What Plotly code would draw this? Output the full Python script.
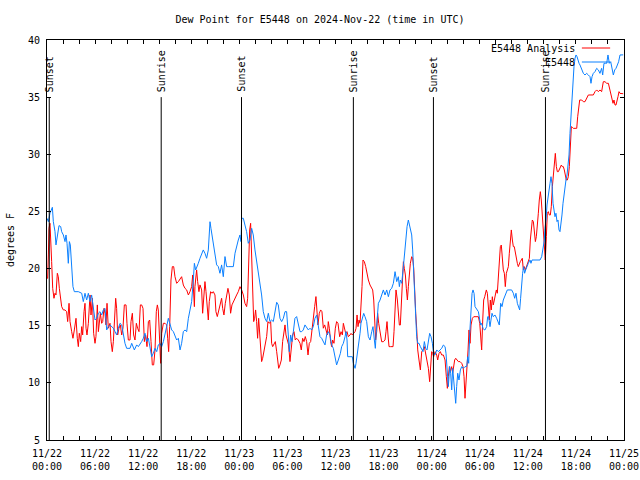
import pandas as pd
import plotly.graph_objects as go

# ---------------- data ----------------
start = pd.Timestamp("2024-11-22 00:00")
end = pd.Timestamp("2024-11-25 00:00")

# E5448 Analysis (red): hours after 2024-11-22 00:00 UTC and dew point (F)
analysis_hours = [
    0.0, 0.08, 0.17, 0.25, 0.37, 0.5, 0.58, 0.71, 0.87, 1.0, 1.12, 1.29, 1.41, 1.54, 1.66, 1.83,
    2.04, 2.25, 2.45, 2.58, 2.75, 2.87, 3.08, 3.24, 3.41, 3.62, 3.78, 3.91, 4.03, 4.2, 4.33, 4.45,
    4.62, 4.74, 4.87, 4.99, 5.16, 5.37, 5.49, 5.66, 5.82, 5.99, 6.11, 6.28, 6.41, 6.53, 6.66, 6.82,
    6.95, 7.11, 7.24, 7.36, 7.49, 7.65, 7.86, 7.99, 8.15, 8.28, 8.4, 8.57, 8.69, 8.82, 8.98, 9.15,
    9.32, 9.48, 9.65, 9.86, 9.98, 10.15, 10.36, 10.48, 10.65, 10.81, 10.98, 11.15, 11.31, 11.48,
    11.65, 11.81, 11.98, 12.15, 12.31, 12.48, 12.65, 12.81, 12.98, 13.14, 13.31, 13.48, 13.64,
    13.77, 13.89, 14.02, 14.18, 14.31, 14.52, 14.73, 14.93, 15.06, 15.18, 15.31, 15.47, 15.64,
    15.81, 15.97, 16.18, 16.39, 16.6, 16.8, 17.01, 17.22, 17.43, 17.64, 17.84, 18.05, 18.18, 18.3,
    18.39,
    18.46, 18.67, 18.8, 18.96, 19.09, 19.3, 19.42, 19.59, 19.71, 19.84, 20.0, 20.13, 20.25, 20.42,
    20.59, 20.75, 20.96, 21.08, 21.25, 21.42, 21.58, 21.79, 21.92, 22.08, 22.25, 22.42, 22.58,
    22.75, 22.91, 23.08, 23.25, 23.46, 23.66, 23.87, 24.08, 24.29, 24.5, 24.7, 24.91, 25.04, 25.16,
    25.29, 25.41, 25.54, 25.66, 25.79, 25.91, 26.03, 26.16, 26.28, 26.41, 26.53, 26.66, 26.78,
    26.91, 27.07, 27.24, 27.41, 27.57, 27.74, 27.91, 28.03, 28.16, 28.32, 28.49, 28.66, 28.78,
    28.91, 29.07, 29.24, 29.4, 29.57, 29.7, 29.82, 29.99, 30.15, 30.32, 30.49, 30.65, 30.82, 30.98,
    31.15, 31.36, 31.57, 31.73, 31.9, 32.07, 32.23, 32.4, 32.57, 32.73, 32.9, 33.06, 33.23, 33.4,
    33.56, 33.69, 33.81, 33.98, 34.15, 34.31, 34.48, 34.65, 34.81, 34.98, 35.1, 35.23, 35.39,
    35.52, 35.64, 35.81, 35.98, 36.14, 36.31, 36.48,
    36.52, 36.69, 36.86, 36.98, 37.1, 37.27, 37.44, 37.6, 37.81, 37.94, 38.1, 38.27, 38.44, 38.56,
    38.69, 38.81, 38.94, 39.06, 39.18, 39.31, 39.43, 39.6, 39.77, 39.93, 40.1, 40.31, 40.52, 40.64,
    40.77, 40.89, 41.01, 41.14, 41.26, 41.39, 41.51, 41.64, 41.76, 41.97, 42.18, 42.3, 42.43, 42.55,
    42.68, 42.85, 43.01, 43.18, 43.3, 43.43, 43.55, 43.72, 43.84, 43.97, 44.09, 44.22, 44.34, 44.47,
    44.59, 44.72, 44.84, 44.97, 45.09, 45.22, 45.34, 45.51, 45.63, 45.76, 45.88, 46.01, 46.13,
    46.26, 46.42, 46.59, 46.76, 46.92, 47.09, 47.25, 47.42, 47.59, 47.75, 47.88, 48.0, 48.13, 48.25,
    48.42, 48.63, 48.75, 48.92, 49.08, 49.25, 49.46, 49.67, 49.83, 49.96, 50.08, 50.21, 50.33,
    50.5, 50.62, 50.75, 50.87, 51.0, 51.16, 51.33, 51.54, 51.75, 51.91, 52.04, 52.16, 52.29, 52.41,
    52.54, 52.66, 52.79, 52.91, 53.08, 53.25, 53.41, 53.62, 53.83, 54.0, 54.12, 54.24, 54.37,
    54.49, 54.62,
    54.7, 54.82, 54.95, 55.07, 55.2, 55.32, 55.44, 55.57, 55.69, 55.82, 55.94, 56.07, 56.19, 56.32,
    56.44, 56.57, 56.69, 56.82, 56.94, 57.07, 57.19, 57.32, 57.44, 57.57, 57.69, 57.82, 57.94,
    58.07, 58.19, 58.31, 58.44, 58.56, 58.69, 58.81, 58.94, 59.06, 59.19, 59.31, 59.44, 59.56,
    59.69, 59.81, 59.94, 60.06, 60.19, 60.31, 60.44, 60.56, 60.69, 60.81, 60.94, 61.06, 61.18,
    61.31, 61.43, 61.56, 61.68, 61.81, 61.93, 62.06, 62.18, 62.31, 62.43, 62.56, 62.68, 62.81,
    62.93, 63.06, 63.18, 63.31, 63.43, 63.56, 63.68, 63.81, 63.93, 64.06, 64.18, 64.3, 64.43,
    64.55, 64.68, 64.8, 64.93, 65.05, 65.18, 65.3, 65.43, 65.55, 65.68, 65.89, 66.1, 66.22, 66.34,
    66.47, 66.72, 66.93, 67.13, 67.34, 67.55, 67.76, 67.97, 68.17, 68.38, 68.59, 68.8, 69.0, 69.21,
    69.42, 69.63, 69.84, 70.05, 70.25, 70.38, 70.5, 70.63, 70.75, 70.88, 71.0, 71.13, 71.25, 71.38,
    71.5, 71.9,
]
analysis_dewpt = [
    19.15, 19.15, 21.19, 23.52, 23.96, 22.36, 20.61, 18.27, 17.4, 17.84, 17.69, 19.59, 19.29, 18.27,
    17.69, 16.67, 16.38, 16.38, 16.23, 15.36, 16.96, 15.36, 14.48, 13.9, 14.63, 15.65, 13.9, 13.17,
    14.34, 13.61, 14.92, 14.19, 16.23, 16.96, 14.78, 14.19, 15.21, 17.69, 15.94, 17.4, 14.34, 13.46,
    14.05, 16.82, 14.48, 15.36, 16.09, 15.21, 15.36, 16.52, 16.09, 15.07, 16.96, 14.78, 15.21,
    13.61, 12.73, 13.61, 15.21, 17.4, 16.52, 14.19, 14.78, 15.07, 14.19, 14.78, 16.82, 16.82,
    15.21, 13.75, 13.75, 15.36, 16.09, 14.19, 13.75, 15.21, 14.78, 14.48, 16.82, 16.82, 16.52,
    13.61, 14.19, 13.17, 15.36, 15.5, 13.61, 11.57, 11.57, 12.88, 16.23, 16.82, 16.38, 14.19,
    11.71, 14.34, 15.21, 15.21, 15.07, 13.9, 12.73, 14.92, 19.0, 20.17, 20.17, 19.29, 18.71, 18.86,
    19.15, 19.29, 18.56, 18.27, 18.13, 17.69, 17.98, 18.42, 19.44, 17.25, 16.67,
    18.42, 19.88, 18.86, 17.98, 18.57, 18.13, 16.09, 17.98, 18.86, 17.98, 16.82, 15.5, 17.11,
    17.98, 17.84, 17.98, 17.69, 16.23, 15.8, 16.38, 16.82, 17.4, 16.52, 15.94, 16.96, 17.69, 18.27,
    17.69, 16.09, 16.82, 17.11, 17.4, 17.69, 17.98, 18.42, 18.13, 17.69, 16.96, 16.67, 17.4, 20.61,
    23.38, 23.96, 20.9, 16.82, 15.36, 15.65, 16.38, 15.36, 13.9, 15.65, 14.19, 13.46, 11.86, 12.15,
    12.73, 13.61, 14.05, 15.36, 15.21, 15.36, 13.46, 13.17, 13.46, 13.61, 12.73, 11.86, 11.27,
    11.57, 12.0, 13.61, 14.48, 15.07, 14.19, 13.61, 13.32, 11.86, 13.46, 14.19, 14.48, 13.75, 13.9,
    13.75, 13.46, 12.88, 13.9, 13.61, 14.05, 13.61, 12.44, 13.46, 13.61, 14.78, 15.65, 16.67,
    17.55, 16.23, 15.07, 16.09, 16.38, 16.23, 14.78, 15.07, 14.48, 14.19, 15.36, 14.78, 13.61,
    13.17, 13.75, 13.46, 14.78, 15.36, 15.21, 14.19,
    14.04, 14.48, 14.19, 15.21, 14.77, 14.33, 14.48, 14.04, 14.19, 14.33, 14.19, 14.33, 14.48,
    14.77, 15.94, 14.92, 15.5, 15.21, 16.52, 18.42, 20.75, 20.6, 20.17, 19.44, 19.0, 18.56, 18.27,
    18.13, 17.25, 14.92, 13.75, 14.48, 16.08, 15.21, 14.77, 14.19, 13.6, 13.6, 13.75, 14.48, 15.36,
    14.19, 13.17, 13.17, 13.17, 13.17, 14.48, 16.38, 18.13, 17.25, 16.08, 15.06, 15.06, 17.54,
    19.15, 20.6, 20.02, 19.44, 18.27, 17.25, 18.42, 19.58, 20.46, 21.04, 20.9, 20.02, 17.69, 16.08,
    14.77, 12.88, 12.0, 11.13, 12.73, 12.88, 13.17, 12.44, 12.0, 11.27, 10.1, 12.0, 12.73, 12.58,
    12.29, 12.73, 12.44, 12.0, 12.58, 12.73, 12.44, 12.44, 12.0, 10.54, 9.52, 10.54, 11.42, 10.98,
    11.42, 10.84, 11.71, 12.0, 12.15, 12.0, 11.86, 11.86, 11.71, 11.42, 10.54, 8.65, 10.84, 11.42,
    12.88, 14.63, 13.46, 15.06, 15.65, 15.79, 15.79, 15.79, 15.79, 15.21, 13.75, 12.88, 15.5,
    17.25, 17.54,
    17.98, 18.13, 17.84, 16.67, 15.5, 17.25, 16.38, 17.54, 16.82, 17.25, 17.84, 18.13, 17.84,
    19.59, 21.04, 21.92, 22.06, 20.75, 19.88, 19.59, 18.42, 19.59, 19.88, 20.17, 21.34, 22.5,
    23.38, 22.5, 21.92, 21.92, 21.34, 20.75, 20.46, 20.17, 20.46, 20.61, 20.75, 20.9, 19.88, 20.17,
    19.88, 20.17, 20.46, 20.61, 20.9, 22.5, 23.67, 24.25, 24.11, 22.79, 22.36, 22.79, 24.25, 24.84,
    26.0, 26.73, 26.0, 24.84, 23.09, 21.92, 20.75, 22.79, 24.84, 24.98, 24.69, 24.69, 25.42, 27.17,
    28.04, 28.77, 30.08, 28.92, 28.48, 28.48, 28.63, 28.92, 29.06, 28.92, 28.92, 28.63, 28.04,
    27.75, 27.75, 28.04, 28.92, 30.67, 32.42, 32.36, 32.27, 32.27, 32.27, 33.29, 34.17, 34.75,
    34.75, 34.6, 34.6, 34.9, 35.19, 35.19, 35.19, 35.19, 35.48, 35.63, 35.48, 35.63, 35.48, 36.35,
    36.35, 36.21, 36.21, 35.63, 35.04, 34.75, 34.46, 34.75, 34.31, 34.31, 34.9, 35.04, 35.48,
    35.33, 35.3,
]

# E5448 observed (blue)
obs_hours = [
    0.0, 0.17, 0.37, 0.58, 0.67, 0.79, 1.0, 1.12, 1.33, 1.5, 1.71, 1.83, 2.04, 2.25, 2.37, 2.5,
    2.66, 2.79, 2.91, 3.08, 3.24, 3.41, 3.91, 4.33, 4.53, 4.74, 4.95, 5.16, 5.37, 5.57, 5.78, 5.99,
    6.2, 6.41, 6.61, 6.82, 7.03, 7.24, 7.45, 7.65, 7.86, 8.07, 8.28, 8.49, 8.69, 8.9, 9.11, 9.32,
    9.53, 9.73, 9.94, 10.36, 10.57, 10.77, 10.9, 11.19, 11.4, 11.81, 12.02, 12.23, 12.44, 12.65,
    12.85, 13.06, 13.27, 13.48, 13.69, 13.89, 14.1, 14.31, 14.52, 14.73, 14.93, 15.14, 15.35,
    15.56, 15.77, 15.97, 16.18, 16.39, 16.6, 16.8, 17.01, 17.22, 17.43, 17.64, 17.84, 18.05, 18.26,
    18.39,
    18.55, 18.67, 18.88, 19.09, 19.3, 19.5, 19.71, 19.92, 20.13, 20.34, 20.46, 20.59, 20.75, 20.96,
    21.17, 21.38, 21.58, 21.79, 22.0, 22.21, 22.42, 22.62, 22.83, 23.04, 23.25, 23.46, 23.66,
    23.87, 24.08, 24.2, 24.29, 24.5, 24.7, 24.91, 25.12, 25.33, 25.54, 25.74, 25.95, 26.16, 26.37,
    26.58, 26.78, 26.99, 27.2, 27.41, 27.62, 27.82, 28.03, 28.24, 28.45, 28.66, 28.86, 29.07,
    29.28, 29.49, 29.7, 29.9, 30.11, 30.24, 30.4, 30.57, 30.74, 30.94, 31.15, 31.36, 31.57, 31.78,
    31.98, 32.19, 32.4, 32.61, 32.82, 33.02, 33.23, 33.44, 33.65, 33.85, 34.06, 34.27, 34.48,
    34.69, 34.89, 35.1, 35.31, 35.52, 35.73, 35.93, 36.14, 36.35, 36.48,
    36.61, 36.77, 36.98, 37.19, 37.31, 37.44, 37.52, 37.81, 38.1, 38.23, 38.44, 38.56, 38.69,
    38.85, 39.06, 39.18, 39.35, 39.52, 39.68, 39.89, 40.1, 40.31, 40.52, 40.68, 40.85, 40.97, 41.1,
    41.22, 41.35, 41.56, 41.76, 41.97, 42.18, 42.39, 42.6, 42.8, 43.01, 43.22, 43.43, 43.64, 43.84,
    43.97, 44.09, 44.26, 44.47, 44.68, 44.8, 44.93, 45.09, 45.22, 45.34, 45.51, 45.63, 45.76,
    45.88, 46.01, 46.13, 46.26, 46.42, 46.59, 46.76, 46.92, 47.09, 47.25, 47.42, 47.59, 47.75,
    47.92, 48.09, 48.25, 48.42, 48.63, 48.84, 49.04, 49.25, 49.46, 49.67, 49.79, 49.92, 50.08,
    50.25, 50.37, 50.5, 50.62, 50.75, 50.87, 51.0, 51.12, 51.25, 51.41, 51.58, 51.75, 51.95, 52.16,
    52.37, 52.5, 52.62, 52.75, 52.91, 53.04, 53.16, 53.29, 53.41, 53.62, 53.83, 54.0, 54.12, 54.24,
    54.41, 54.58,
    54.65, 54.86, 54.99, 55.11, 55.28, 55.4, 55.53, 55.69, 55.9, 56.11, 56.32, 56.44, 56.61, 56.78,
    56.94, 57.11, 57.27, 57.44, 57.98, 58.19, 58.36, 58.52, 58.69, 58.86, 58.98, 59.1, 59.23,
    59.35, 59.48, 59.6, 59.73, 59.85, 60.06, 60.27, 60.39, 60.52, 61.52, 61.73, 61.85, 61.98,
    62.06, 62.14, 62.27, 62.39, 62.52, 62.64, 62.77, 62.89, 63.01, 63.14, 63.26, 63.39, 63.51,
    63.64, 63.76, 63.89, 64.01, 64.14, 64.26, 64.39, 64.51, 64.64, 64.76, 64.89, 65.01, 65.14,
    65.26, 65.39, 65.51, 65.64, 65.76, 65.89, 66.01, 66.14, 66.26, 66.39, 66.51, 66.72, 66.93,
    67.13, 67.34, 67.55, 67.76, 67.88, 68.01, 68.17, 68.38, 68.59, 68.8, 69.0, 69.21, 69.34, 69.5,
    69.67, 69.84, 70.0, 70.17, 70.34, 70.5, 70.67, 70.84, 71.0, 71.17, 71.33, 71.5, 71.9,
]
obs_dewpt = [
    24.4, 24.1, 24.84, 25.27, 25.36, 24.1, 23.23, 22.07, 23.23, 23.76, 23.67, 23.23, 22.94, 22.36,
    22.94, 22.21, 20.46, 22.36, 22.07, 19.73, 18.42, 17.98, 17.98, 17.84, 17.11, 17.84, 17.25,
    17.84, 17.11, 17.69, 16.67, 15.5, 15.65, 16.09, 16.23, 15.94, 16.38, 16.52, 14.63, 14.92,
    15.07, 14.92, 14.78, 14.48, 14.19, 14.78, 15.21, 15.07, 14.19, 13.46, 13.02, 13.02, 13.46,
    13.17, 12.88, 13.32, 13.17, 13.61, 13.9, 14.34, 13.61, 13.9, 13.02, 12.29, 12.59, 13.02, 12.73,
    13.32, 13.46, 13.17, 13.61, 14.19, 14.92, 15.65, 15.21, 14.63, 14.48, 14.19, 13.75, 13.9,
    12.88, 13.46, 14.48, 14.63, 14.48, 15.65, 16.38, 17.11, 19.0, 20.46,
    19.88, 20.17, 20.46, 20.9, 21.34, 21.63, 21.34, 20.9, 21.63, 24.1, 23.52, 22.94, 21.92, 20.9,
    20.32, 20.17, 19.59, 20.32, 19.29, 21.05, 20.17, 20.17, 20.17, 20.17, 20.17, 21.34, 22.07,
    22.5, 22.94, 22.36, 24.4, 24.4, 23.81, 23.23, 22.21, 22.5, 23.52, 22.94, 21.63, 20.61, 19.88,
    18.71, 17.69, 16.23, 15.65, 15.36, 16.09, 15.36, 15.5, 15.36, 16.38, 17.05, 16.82, 15.65,
    15.36, 15.65, 16.23, 16.23, 14.19, 12.73, 14.19, 13.61, 14.48, 15.65, 15.8, 15.21, 14.48,
    14.48, 14.63, 15.07, 14.78, 14.63, 14.78, 14.63, 14.92, 15.65, 15.94, 14.78, 14.05, 13.9,
    13.61, 13.32, 14.19, 14.48, 14.19, 13.32, 13.02, 12.15, 11.57, 12.0, 12.29,
    12.58, 13.17, 13.46, 14.04, 14.48, 13.75, 12.29, 12.29, 12.29, 11.71, 11.27, 11.71, 12.29,
    13.17, 14.33, 15.21, 15.65, 16.08, 15.79, 15.36, 14.04, 13.75, 14.48, 14.92, 13.75, 13.02,
    14.63, 16.38, 16.96, 17.25, 17.69, 18.13, 17.69, 18.13, 17.54, 18.13, 18.27, 18.71, 19.73,
    18.86, 19.29, 18.42, 19.0, 18.71, 20.17, 21.77, 22.79, 23.67, 24.25, 23.81, 23.38, 22.94,
    21.63, 19.29, 17.25, 15.5, 14.04, 13.46, 13.46, 13.17, 12.88, 12.73, 13.61, 13.02, 12.88,
    13.61, 14.33, 14.04, 13.46, 12.58, 12.44, 12.88, 12.73, 12.88, 13.02, 13.31, 13.17, 12.58,
    11.56, 9.67, 11.42, 10.84, 9.38, 11.27, 10.25, 9.09, 8.21, 9.67, 10.84, 10.25, 11.13, 11.42,
    11.27, 11.42, 11.42, 12.29, 11.71, 14.33, 16.38, 17.83, 18.13, 17.83, 16.67, 16.38, 16.23,
    15.5, 15.06, 15.21, 14.77, 14.63,
    14.63, 14.92, 15.79, 15.79, 14.92, 15.5, 16.09, 15.79, 15.94, 15.65, 15.21, 15.06, 16.96,
    16.67, 17.25, 17.54, 17.98, 18.13, 18.13, 17.84, 17.4, 17.84, 16.96, 16.67, 16.38, 17.4, 18.71,
    19.59, 20.17, 19.59, 19.88, 20.17, 20.46, 20.75, 20.46, 20.75, 20.75, 21.04, 21.63, 21.92,
    22.5, 23.52, 24.25, 25.56, 26.29, 27.17, 27.46, 28.04, 27.46, 25.71, 24.84, 24.54, 24.84,
    24.11, 24.25, 23.38, 23.23, 23.81, 24.69, 25.71, 26.59, 27.31, 27.75, 28.19, 28.92, 29.94,
    31.83, 33.29, 35.33, 36.79, 37.67, 38.4, 38.69, 38.54, 38.1, 37.96, 37.81, 37.38, 37.08,
    36.94, 37.08, 36.94, 36.79, 36.21, 36.79, 37.08, 37.23, 37.52, 37.38, 37.08, 37.52, 36.94,
    37.96, 37.96, 37.96, 38.69, 37.96, 38.1, 37.52, 36.94, 37.38, 37.52, 37.81, 38.1, 38.69, 38.7,
]

# Sun events (hours after start)
sun_labels = ["Sunset", "Sunrise", "Sunset", "Sunrise", "Sunset", "Sunrise"]
sun_hours = [0.28, 14.25, 24.27, 38.23, 48.22, 62.2]

series_names = ["E5448 Analysis", "E5448"]
series_colors = ["#ff0000", "#0a80ff"]

y_ticks = [5, 10, 15, 20, 25, 30, 35, 40]
tick_times = pd.date_range(start, end, freq="6h")
tick_text = [t.strftime("%m/%d<br>%H:%M") for t in tick_times]

FONT = "DejaVu Sans Mono"


def to_time(hours):
    return start + pd.to_timedelta(pd.Series(hours), unit="h")


fig = go.Figure()
fig.add_trace(go.Scatter(x=to_time(analysis_hours), y=analysis_dewpt, mode="lines",
                         name=series_names[0], line=dict(color=series_colors[0], width=1)))
fig.add_trace(go.Scatter(x=to_time(obs_hours), y=obs_dewpt, mode="lines",
                         name=series_names[1], line=dict(color=series_colors[1], width=1)))

# Sunrise / sunset markers
for lab, h in zip(sun_labels, sun_hours):
    t = start + pd.Timedelta(hours=h)
    fig.add_shape(type="line", xref="x", yref="y", x0=t, x1=t, y0=5, y1=35,
                  line=dict(color="black", width=1))
    fig.add_annotation(x=t, y=35, xref="x", yref="y", text=lab, textangle=-90,
                       showarrow=False, yanchor="bottom", xanchor="center", yshift=3,
                       font=dict(family=FONT, size=10, color="black"))

# gnuplot-style key (text right-aligned, sample line at the right)
key_rows = [0.98, 0.945]
for name, col, yk in zip(series_names, series_colors, key_rows):
    fig.add_annotation(x=0.918, y=yk, xref="paper", yref="paper", text=name, showarrow=False,
                       xanchor="right", yanchor="middle",
                       font=dict(family=FONT, size=10, color="black"))
    fig.add_shape(type="line", xref="paper", yref="paper", x0=0.927, x1=0.976, y0=yk, y1=yk,
                  line=dict(color=col, width=1))

fig.update_layout(
    width=640, height=480,
    margin=dict(l=47, r=16, t=40, b=40, autoexpand=False),
    paper_bgcolor="white", plot_bgcolor="white",
    showlegend=False,
    font=dict(family=FONT, size=10, color="black"),
    title=dict(text="Dew Point for E5448 on 2024-Nov-22 (time in UTC)", x=0.5, xanchor="center",
               y=1 - 19 / 480, yanchor="middle", yref="container",
               font=dict(family=FONT, size=10, color="black")),
)
fig.update_xaxes(
    type="date", range=[start, end], showgrid=False, zeroline=False, automargin=False,
    showline=True, linecolor="black", linewidth=1, mirror="ticks",
    ticks="inside", ticklen=4, tickcolor="black",
    tickvals=list(tick_times), ticktext=tick_text, ticklabelstandoff=4,
    minor=dict(ticks="inside", ticklen=4, tickcolor="black", dtick=2 * 3600 * 1000,
               tick0=start, showgrid=False),
    tickfont=dict(family=FONT, size=10),
)
fig.update_yaxes(
    range=[5, 40], showgrid=False, zeroline=False, automargin=False,
    showline=True, linecolor="black", linewidth=1, mirror="ticks",
    ticks="inside", ticklen=4, tickcolor="black",
    tickvals=y_ticks, ticklabelstandoff=4,
    tickfont=dict(family=FONT, size=10),
    title=dict(text="degrees F", standoff=11, font=dict(family=FONT, size=10)),
)

fig.write_html(
    "out.html",
    config={"displayModeBar": False},
    post_script="document.body.style.margin='0';document.body.style.overflow='hidden';",
)
